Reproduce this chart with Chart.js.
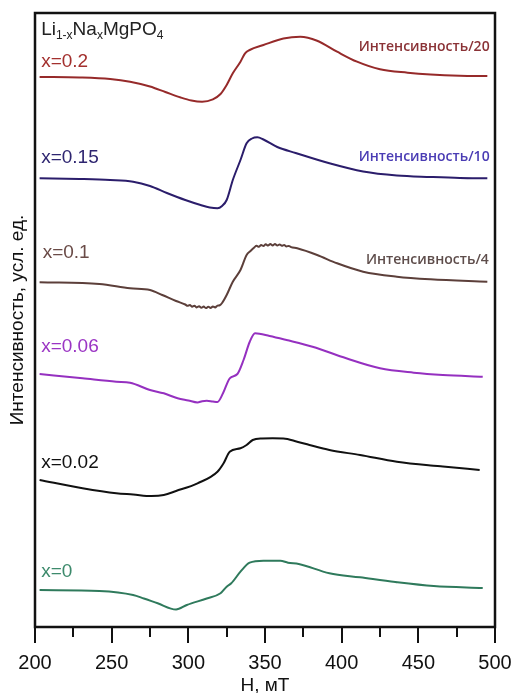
<!DOCTYPE html>
<html>
<head>
<meta charset="utf-8">
<script src="https://cdn.jsdelivr.net/npm/chart.js@4/dist/chart.umd.min.js"></script>
<style>
  html, body { margin: 0; padding: 0; background: #ffffff; }
  canvas { display: block; }
</style>
</head>
<body>
<canvas id="epr" width="513" height="693"></canvas>
<script>
// EPR spectra of Li(1-x)Na(x)MgPO4, stacked with vertical offsets (arbitrary units)
// Magnetic field H, mT
const H_02  = [203,229,249,262,275,285,295,302,309,316,321,325,329,334,337,340,349,362,373,384,397,410,425,443,458,477,495];
const I_02  = [550,549.5,548,545.3,540.5,535,529.5,526.5,525.3,527.7,533,542,553.7,565.3,573.7,577,582,588.5,590.3,586.3,575.3,565.3,557.7,554.3,552.5,551.3,551];

const H_015 = [203,229,249,264,275,286,298,308,314,319,322,325,329,334,338,341.5,345,349,358,370,392,414,436,458,477,495];
const I_015 = [448.7,448,447,445.3,441,434,427,422,419.5,418.7,421,427,447,467,483.7,488.5,489.7,487.5,480,474,463.7,455.5,451.5,450,449,448.7];

const H_01  = [203,242,262,275,283,292,
               298,299.5,301,302.5,304,305.5,307,308.5,310,311.5,313,314.5,316,317.5,319,320.5,322,
               325,329,334,338,340.5,
               343,344.5,346,347.5,349,350.5,352,353.5,355,356.5,358,359.5,361,362.5,364,365.5,367,
               371,384,397,414,436,458,495];
const I_01  = [344.7,343,338.7,337,332,326,
               322.5,321.2,322,320.3,321.3,319.6,320.8,319.2,320.4,318.9,320.3,319,320.6,319.6,321.4,321.8,324,
               332,345.3,357,372,376,
               379.6,381.2,380.2,382,381,382.8,381.4,383,381.6,382.9,381.5,382.6,381.2,382,380.6,381.1,379.9,
               378.7,372,363.7,355.3,350.3,347.7,345.3];

const H_006 = [203,231,253,262,275,284,293,300,306,309,312,316,319,322.6,327,332,336,340,343.5,353,364,381,403,425,447,466,492];
const I_006 = [253,248.7,245.3,244.3,237,233.7,228.7,226.5,224.5,225.8,226.3,225.5,225,233.7,248.7,253,267,285,293.7,291,287,280.3,268.7,258.7,254.3,252,250.3];

const H_002 = [203,231,253,264,276,284,292,306,319,323,327,334,338,342,348,355,362,371,379,392,412,436,458,466,490];
const I_002 = [147,138.7,133.7,132.5,131,132,136,143.7,155.3,163.7,175.3,178.7,182,187,188.5,188.7,188.5,185.3,182,177,172,165.3,161.5,160.5,157];

const H_0   = [203,242,264,271,280,292,299,312,321,325,328,334,340,349,360,365,372,392,412,435,460,492];
const I_0   = [37,36,32,28.5,23.7,17.5,22,28.5,33.7,40.3,43.7,55.3,64.3,66.3,66.3,64.3,63,53.7,49.7,45,41,39];

// Series names and scale notes
const seriesNames = ['x=0.2', 'x=0.15', 'x=0.1', 'x=0.06', 'x=0.02', 'x=0'];
const scaleNotes  = ['Интенсивность/20', 'Интенсивность/10', 'Интенсивность/4'];

// Axis ticks
const xTicks = [200, 250, 300, 350, 400, 450, 500];
const xMinorStep = 25;

const FONT = '"Liberation Sans", Arial, sans-serif';
const NOTE_FONT = '"Open Sans", "Noto Sans", sans-serif';

const lineColors  = ['#962a2a', '#2b1d6b', '#5c3f3a', '#9530c0', '#111111', '#2f7a5c'];
const labelColors = ['#a3302e', '#2e2570', '#6a4b47', '#9b35c4', '#111111', '#3d8a6c'];
const noteColors  = ['#8a3236', '#4a3cb4', '#5e4d4b'];

const fields = [H_02, H_015, H_01, H_006, H_002, H_0];
const intens = [I_02, I_015, I_01, I_006, I_002, I_0];

const datasets = fields.map((h, k) => ({
  label: seriesNames[k],
  data: h.map((v, i) => ({ x: v, y: intens[k][i] })),
  borderColor: lineColors[k],
  borderWidth: 2,
  pointRadius: 0,
  fill: false,
  cubicInterpolationMode: 'monotone'
}));

// Frame around the plot area plus outward tick marks on the field axis
const frameAndTicks = {
  id: 'frameAndTicks',
  afterDraw(chart) {
    const { ctx, chartArea: a, scales: { x } } = chart;
    ctx.save();
    ctx.strokeStyle = '#111';
    ctx.lineWidth = 2.5;
    ctx.strokeRect(a.left, a.top, a.right - a.left, a.bottom - a.top);
    ctx.lineWidth = 2;
    for (let v = xTicks[0]; v <= xTicks[xTicks.length - 1]; v += xMinorStep) {
      const px = Math.round(x.getPixelForValue(v));
      const major = xTicks.includes(v);
      ctx.beginPath();
      ctx.moveTo(px, a.bottom);
      ctx.lineTo(px, a.bottom + (major ? 16 : 10));
      ctx.stroke();
    }
    ctx.restore();
  }
};

// Series names, intensity scale notes and the compound formula
const annotations = {
  id: 'annotations',
  afterDatasetsDraw(chart) {
    const { ctx, scales: { x, y } } = chart;
    ctx.save();
    ctx.textBaseline = 'middle';

    // series names at the left edge
    const namePos = [[204, 565], [204, 469], [205, 374], [204, 280], [204, 164], [204, 55]];
    ctx.font = '19px ' + FONT;
    ctx.textAlign = 'left';
    seriesNames.forEach((t, k) => {
      ctx.fillStyle = labelColors[k];
      ctx.fillText(t, x.getPixelForValue(namePos[k][0]), y.getPixelForValue(namePos[k][1]));
    });

    // intensity scale notes at the right edge
    const notePos = [[496.5, 580], [496.5, 470], [496, 367]];
    ctx.font = '600 14px ' + NOTE_FONT;
    ctx.textAlign = 'right';
    scaleNotes.forEach((t, k) => {
      ctx.fillStyle = noteColors[k];
      ctx.fillText(t, x.getPixelForValue(notePos[k][0]), y.getPixelForValue(notePos[k][1]));
    });

    // Li(1-x)Na(x)MgPO4 with subscripts
    const parts = [['Li', false], ['1-x', true], ['Na', false], ['x', true], ['MgPO', false], ['4', true]];
    let cx = x.getPixelForValue(204);
    const cy = y.getPixelForValue(597);
    ctx.textAlign = 'left';
    ctx.fillStyle = '#222';
    parts.forEach(([t, sub]) => {
      ctx.font = (sub ? '12px ' : '19px ') + FONT;
      ctx.fillText(t, cx, sub ? cy + 6 : cy);
      cx += ctx.measureText(t).width;
    });
    ctx.restore();
  }
};

new Chart(document.getElementById('epr'), {
  type: 'line',
  data: { datasets },
  options: {
    responsive: false,
    animation: false,
    layout: { padding: { top: 13, right: 18, left: 0, bottom: 0 } },
    plugins: { legend: { display: false }, tooltip: { enabled: false } },
    scales: {
      x: {
        type: 'linear',
        min: 200,
        max: 500,
        afterBuildTicks: (s) => { s.ticks = xTicks.map(v => ({ value: v })); },
        afterFit: (s) => { s.height = 66; },
        grid: { display: true, drawOnChartArea: false, drawTicks: true, tickLength: 24, color: 'rgba(0,0,0,0)' },
        border: { display: false },
        ticks: { color: '#111', padding: 0, font: { family: FONT, size: 20 }, maxRotation: 0 },
        title: {
          display: true,
          text: 'H, мТ',
          color: '#111',
          padding: { top: 0, bottom: 0 },
          font: { family: FONT, size: 19, lineHeight: 0.8 }
        }
      },
      y: {
        type: 'linear',
        min: 0,
        max: 614,
        afterFit: (s) => { s.width = 35; },
        grid: { display: false },
        border: { display: false },
        ticks: { display: false },
        title: {
          display: true,
          text: 'Интенсивность, усл. ед.',
          color: '#111',
          padding: { top: 6, bottom: 0 },
          font: { family: FONT, size: 19 }
        }
      }
    }
  },
  plugins: [frameAndTicks, annotations]
});
</script>
</body>
</html>
